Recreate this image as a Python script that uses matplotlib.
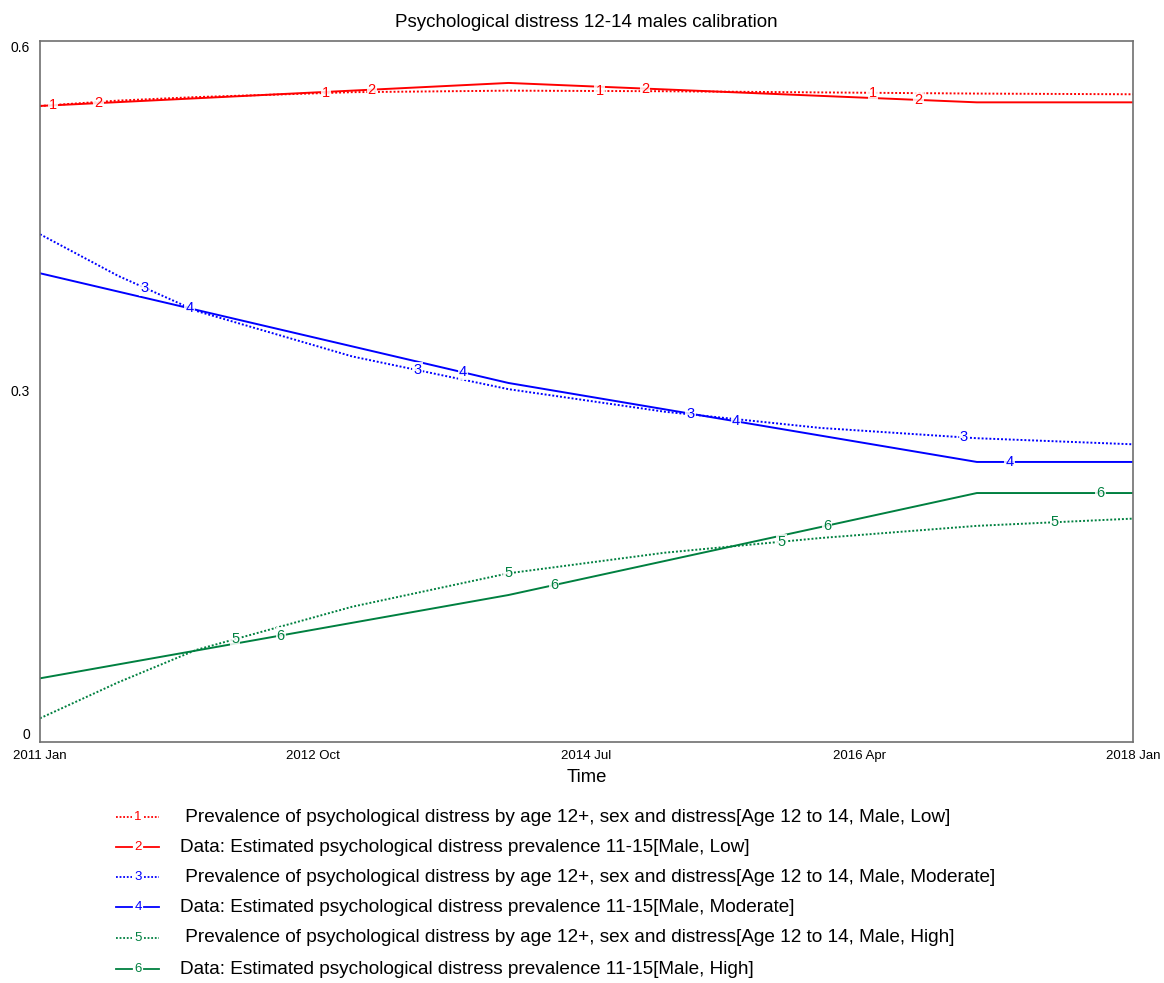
import numpy as np
import matplotlib
matplotlib.use('Agg')
import matplotlib.pyplot as plt

plt.rcParams['font.family'] = ['Liberation Sans', 'DejaVu Sans']

# --- data (decimal years) ---
sim_years = [2011, 2011.5, 2012, 2013, 2014, 2015, 2016, 2017, 2018]
data_years = [2011, 2014, 2017, 2018]

sim_low = [0.5444, 0.5490, 0.5520, 0.5562, 0.5575, 0.5570, 0.5560, 0.5550, 0.5544]
data_low = [0.5444, 0.5641, 0.5475, 0.5475]
sim_moderate = [0.4346, 0.3990, 0.3690, 0.3300, 0.3020, 0.2827, 0.2688, 0.2600, 0.2548]
data_moderate = [0.4012, 0.3073, 0.2397, 0.2397]
sim_high = [0.0203, 0.0510, 0.0788, 0.1158, 0.1444, 0.1620, 0.1746, 0.1850, 0.1912]
data_high = [0.0545, 0.1258, 0.2131, 0.2131]

tick_pos = [2011, 2012.75, 2014.5, 2016.25, 2018]
tick_labels = ['2011 Jan', '2012 Oct', '2014 Jul', '2016 Apr', '2018 Jan']

labels = [
    ' Prevalence of psychological distress by age 12+, sex and distress[Age 12 to 14, Male, Low]',
    'Data: Estimated psychological distress prevalence 11-15[Male, Low]',
    ' Prevalence of psychological distress by age 12+, sex and distress[Age 12 to 14, Male, Moderate]',
    'Data: Estimated psychological distress prevalence 11-15[Male, Moderate]',
    ' Prevalence of psychological distress by age 12+, sex and distress[Age 12 to 14, Male, High]',
    'Data: Estimated psychological distress prevalence 11-15[Male, High]',
]

RED, BLUE, GREEN = '#ff0000', '#0000ff', '#008040'
series = [
    (sim_years, sim_low, RED, 'dot'),
    (data_years, data_low, RED, 'solid'),
    (sim_years, sim_moderate, BLUE, 'dot'),
    (data_years, data_moderate, BLUE, 'solid'),
    (sim_years, sim_high, GREEN, 'dot'),
    (data_years, data_high, GREEN, 'solid'),
]

fig = plt.figure(figsize=(11.64, 9.83), dpi=100)
ax = fig.add_axes([40 / 1164, 1 - 742 / 983, 1093 / 1164, 701 / 983])

for k, (xs, ys, col, st) in enumerate(series):
    ls = (0, (1, 1)) if st == 'dot' else '-'
    ax.plot(xs, ys, color=col, lw=1.4, linestyle=ls, zorder=2)
    # numbered markers along the line, Vensim style
    for j in range(4):
        xp = 2011 + 0.0833 + k * 0.2917 + j * 1.75
        yp = np.interp(xp, xs, ys)
        ax.text(xp, yp, str(k + 1), color=col, fontsize=10.5, ha='center', va='center',
                zorder=3, bbox=dict(boxstyle='square,pad=0.08', fc='white', ec='none', alpha=0.85))

ax.set_xlim(2011, 2018)
ax.set_ylim(0, 0.6)
ax.set_xticks(tick_pos)
ax.set_xticklabels(tick_labels, fontsize=9.5)
ax.tick_params(axis='x', length=0, pad=6)
ax.set_yticks([])
for s in ax.spines.values():
    s.set_color('#707070')
    s.set_linewidth(1.2)

# y labels placed like Vensim: top one below the top, bottom one above the bottom
ytr = ax.get_yaxis_transform()
ax.text(-0.009, 0.6, '0.6', transform=ytr, ha='right', va='top', fontsize=10)
ax.text(-0.009, 0.3, '0.3', transform=ytr, ha='right', va='center', fontsize=10)
ax.text(-0.009, 0.0, '0', transform=ytr, ha='right', va='bottom', fontsize=10)

ax.set_xlabel('Time', fontsize=13.3, labelpad=5)
ax.set_title('Psychological distress 12-14 males calibration', fontsize=13.5, pad=10)

# --- legend drawn in its own axes (pixel coords) ---
lax = fig.add_axes([0, 0, 1, 1 - 790 / 983])
lax.set_xlim(0, 1164)
lax.set_ylim(983, 790)
lax.axis('off')
rows = [817, 847, 877, 907, 938, 969]
for k, (xs, ys, col, st) in enumerate(series):
    y = rows[k]
    ls = (0, (1, 1)) if st == 'dot' else '-'
    lax.plot([116, 132], [y, y], color=col, lw=1.3, linestyle=ls)
    lax.plot([144, 159], [y, y], color=col, lw=1.3, linestyle=ls)
    lax.text(138, y, str(k + 1), color=col, fontsize=9.5, ha='center', va='center')
    lax.text(180, y, labels[k], color='black', fontsize=13.7, ha='left', va='center')

fig.savefig('out.png', dpi=100)
